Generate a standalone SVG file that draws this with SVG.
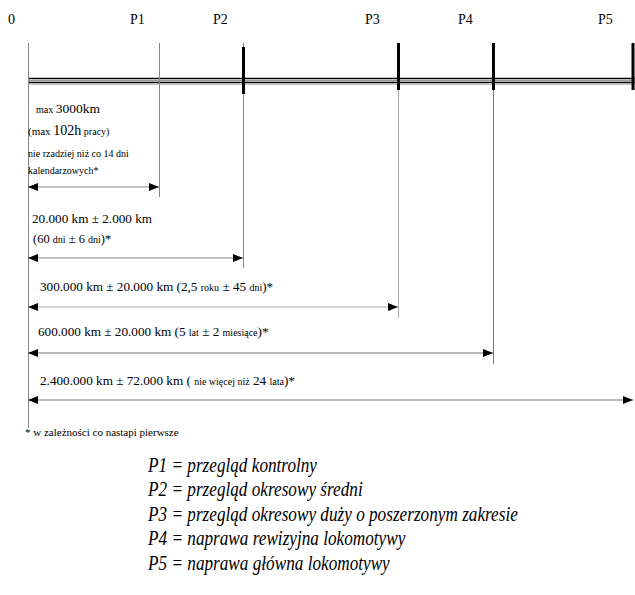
<svg xmlns="http://www.w3.org/2000/svg" width="635" height="595" viewBox="0 0 635 595">
<style>
text{font-family:"Liberation Serif","Times New Roman",serif;fill:#000}
.lbl{font-size:14px}
.m{font-size:13.2px}
.s{font-size:10px}
.f{font-size:10px}
.leg{font-size:20px;font-style:italic}
.thin{stroke:#888;stroke-width:1;fill:none}
.tick{stroke:#000;stroke-width:3;fill:none}
.arr{stroke-width:1.2;fill:none;marker-start:url(#ah);marker-end:url(#ah)}
</style>
<defs>
<marker id="ah" markerUnits="userSpaceOnUse" markerWidth="11" markerHeight="8" refX="10" refY="4" orient="auto-start-reverse">
<path d="M0,0 L10,4 L0,8 Z" fill="#000"/>
</marker>
</defs>
<rect width="635" height="595" fill="#fff"/>

<g id="timeline">
<line x1="28" y1="78.5" x2="635" y2="78.5" stroke="#000" stroke-width="1.5"/>
<line x1="28" y1="80.6" x2="635" y2="80.6" stroke="#999" stroke-width="1.4"/>
<line x1="28" y1="82.5" x2="635" y2="82.5" stroke="#000" stroke-width="1.5"/>
<line x1="28" y1="84.2" x2="635" y2="84.2" stroke="#aaa" stroke-width="1"/>
</g>

<g id="p0">
<text class="lbl" x="8" y="24">0</text>
<line class="thin" x1="28.5" y1="43" x2="28.5" y2="428"/>
</g>
<g id="p1">
<text class="lbl" x="130" y="24">P1</text>
<line class="thin" x1="159.5" y1="43" x2="159.5" y2="197"/>
</g>
<g id="p2">
<text class="lbl" x="213" y="24">P2</text>
<line class="thin" x1="243.5" y1="43" x2="243.5" y2="268"/>
<line class="tick" x1="243.5" y1="47" x2="243.5" y2="94"/>
</g>
<g id="p3">
<text class="lbl" x="365" y="24">P3</text>
<line x1="398.5" y1="43" x2="398.5" y2="318" stroke="#aaa" stroke-width="1"/>
<line class="tick" x1="398.5" y1="43" x2="398.5" y2="90"/>
</g>
<g id="p4">
<text class="lbl" x="458" y="24">P4</text>
<line x1="493.5" y1="43" x2="493.5" y2="364" stroke="#777" stroke-width="1"/>
<line class="tick" x1="493.5" y1="43" x2="493.5" y2="90"/>
</g>
<g id="p5">
<text class="lbl" x="598" y="24">P5</text>
<line class="tick" x1="633" y1="43" x2="633" y2="90"/>
</g>

<g id="label-p1">
<text x="36" y="113"><tspan class="f">max </tspan><tspan style="font-size:13.5px">3000km</tspan></text>
<text x="28" y="135"><tspan style="font-size:11px">(max </tspan><tspan style="font-size:14px">102h</tspan><tspan class="f"> pracy)</tspan></text>
<text class="f" x="28" y="157">nie rzadziej niż co 14 dni</text>
<text class="f" x="28" y="174">kalendarzowych*</text>
</g>
<g id="label-p2">
<text class="m" x="32" y="223">20.000 km ± 2.000 km</text>
<text x="33" y="243" style="font-size:12.5px">(60 <tspan class="s">dni</tspan> ± 6 <tspan class="s">dni</tspan>)*</text>
</g>
<g id="label-p3">
<text class="m" x="40" y="291">300.000 km ± 20.000 km (2,5 <tspan class="s">roku</tspan> ± 45 <tspan class="s">dni</tspan>)*</text>
</g>
<g id="label-p4">
<text class="m" x="38" y="336">600.000 km ± 20.000 km (5 <tspan class="s">lat</tspan> ± 2 <tspan class="s">miesiące</tspan>)*</text>
</g>
<g id="label-p5">
<text class="m" x="40" y="385">2.400.000 km ± 72.000 km ( <tspan class="s">nie więcej niż</tspan> 24 <tspan class="s">lata</tspan>)*</text>
</g>

<g id="connectors">
<line class="arr" x1="28" y1="187" x2="159" y2="187" stroke="#888"/>
<line class="arr" x1="28" y1="258" x2="243" y2="258" stroke="#888"/>
<line class="arr" x1="28" y1="307" x2="398" y2="307" stroke="#aaa"/>
<line class="arr" x1="28" y1="353" x2="493" y2="353" stroke="#777"/>
<line class="arr" x1="28" y1="400" x2="633" y2="400" stroke="#777"/>
</g>

<g id="footnote">
<text style="font-size:11px" x="25" y="436">* w zależności co nastapi pierwsze</text>
</g>

<g id="legend" transform="translate(148,0) scale(0.86,1)">
<text class="leg" x="0" y="472">P1 = przegląd kontrolny</text>
<text class="leg" x="0" y="496.5">P2 = przegląd okresowy średni</text>
<text class="leg" x="0" y="521">P3 = przegląd okresowy duży o poszerzonym zakresie</text>
<text class="leg" x="0" y="545.5">P4 = naprawa rewizyjna lokomotywy</text>
<text class="leg" x="0" y="570">P5 = naprawa główna lokomotywy</text>
</g>
</svg>
